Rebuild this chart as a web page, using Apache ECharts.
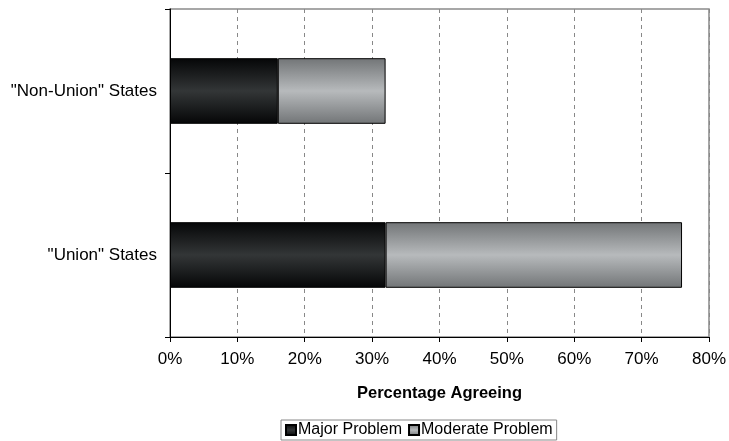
<!DOCTYPE html>
<html>
<head>
<meta charset="utf-8">
<script src="https://cdn.jsdelivr.net/npm/echarts@6/dist/echarts.min.js"></script>
<style>html,body{margin:0;padding:0;background:#fff;}#c{width:729px;height:441px;}</style>
</head>
<body>
<div id="c"></div>
<script>
var categories = ['"Union" States', '"Non-Union" States'];
var majorProblem = [32, 16];
var moderateProblem = [44, 16];
var xTicks = [0, 10, 20, 30, 40, 50, 60, 70, 80];

function grad(edge, mid) {
  return new echarts.graphic.LinearGradient(0, 0, 0, 1, [
    {offset: 0, color: edge}, {offset: 0.5, color: mid}, {offset: 1, color: edge}
  ]);
}
var font = 'Liberation Sans, Arial, sans-serif';
var chart = echarts.init(document.getElementById('c'));
chart.setOption({
  animation: false,
  backgroundColor: '#fff',
  grid: {left: 170, right: 18, top: 9, bottom: 104, show: true, borderColor: '#8a8a8a', borderWidth: 1.5},
  legend: {
    data: ['Major Problem', 'Moderate Problem'],
    left: 281, top: 420,
    padding: [2, 4, 2, 4],
    borderColor: '#888', borderWidth: 1,
    itemWidth: 10, itemHeight: 10, itemGap: 6,
    icon: 'rect',
    textStyle: {fontFamily: font, fontSize: 16, color: '#000', padding: [0, 0, 0, -3]}
  },
  xAxis: {
    type: 'value', min: 0, max: 80, interval: 10,
    name: 'Percentage Agreeing', nameLocation: 'middle', nameGap: 48,
    nameTextStyle: {fontFamily: font, fontSize: 16.5, fontWeight: 'bold', color: '#000'},
    axisLine: {show: true, lineStyle: {color: '#000', width: 1}},
    axisTick: {show: true, length: 5, lineStyle: {color: '#000'}},
    axisLabel: {fontFamily: font, fontSize: 17, color: '#000', margin: 14, formatter: function (v) { return v + '%'; }},
    splitLine: {show: true, lineStyle: {color: '#888', type: [4, 4], width: 1}}
  },
  yAxis: {
    type: 'category', data: categories,
    axisLine: {show: true, lineStyle: {color: '#000', width: 1}},
    axisTick: {show: true, length: 5, lineStyle: {color: '#000'}},
    axisLabel: {fontFamily: font, fontSize: 17, color: '#000', margin: 13}
  },
  series: [
    {
      name: 'Major Problem', type: 'bar', stack: 'a', barWidth: '40%',
      data: majorProblem,
      itemStyle: {color: grad('#050607', '#333637'), borderColor: '#000', borderWidth: 1}
    },
    {
      name: 'Moderate Problem', type: 'bar', stack: 'a', barWidth: '40%',
      data: moderateProblem,
      itemStyle: {color: grad('#727577', '#b7babc'), borderColor: '#000', borderWidth: 1}
    }
  ]
});
</script>
</body>
</html>
